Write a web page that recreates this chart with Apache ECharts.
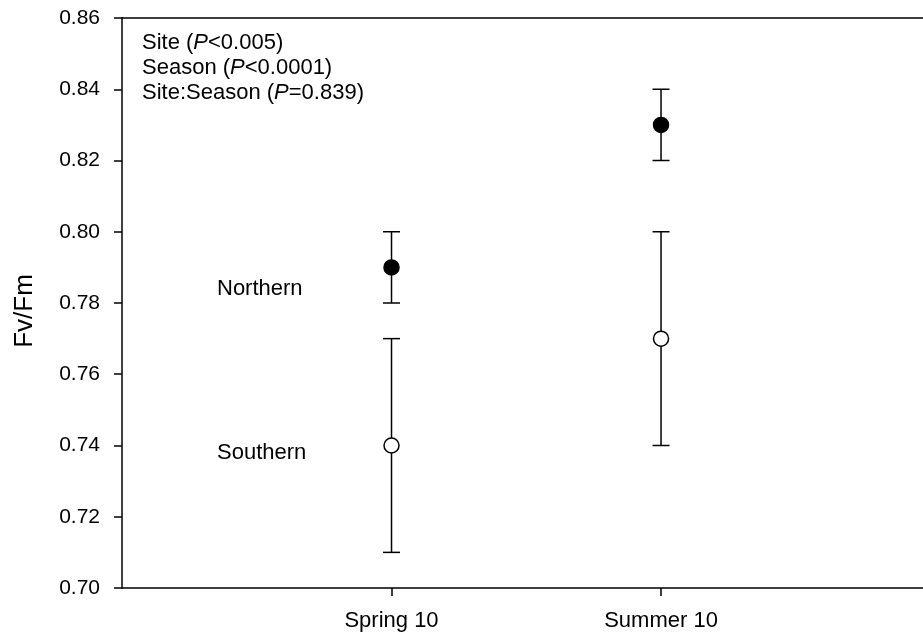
<!DOCTYPE html>
<html>
<head>
<meta charset="utf-8">
<script src="https://cdn.jsdelivr.net/npm/echarts@6/dist/echarts.min.js"></script>
<style>
  html, body { margin: 0; padding: 0; background: #fff; }
  #chart { width: 923px; height: 637px; }
</style>
</head>
<body>
<div id="chart"></div>
<script>
// Season categories, placed at x = 1 and x = 2
const categories = ['Spring 10', 'Summer 10'];
const seasonIndex = [1, 2];
const xExtent = [0, 2.972];

// Fv/Fm means and error ranges per site
const northernMean = [0.79, 0.83];
const northernLow  = [0.78, 0.82];
const northernHigh = [0.80, 0.84];

const southernMean = [0.74, 0.77];
const southernLow  = [0.71, 0.74];
const southernHigh = [0.77, 0.80];

const statLines = [
  'Site ({i|P}<0.005)',
  'Season ({i|P}<0.0001)',
  'Site:Season ({i|P}=0.839)'
];

const FONT = 'Liberation Sans, Arial, sans-serif';

const chart = echarts.init(document.getElementById('chart'));

function errorData(low, high) {
  return seasonIndex.map((x, i) => [x, low[i], high[i]]);
}
function pointData(mean) {
  return seasonIndex.map((x, i) => [x, mean[i]]);
}

function renderErrorBar(params, api) {
  const x = api.value(0);
  const lo = api.coord([x, api.value(1)]);
  const hi = api.coord([x, api.value(2)]);
  const half = 8.5;
  const style = { stroke: '#000', lineWidth: 1.5 };
  return {
    type: 'group',
    children: [
      { type: 'line', shape: { x1: lo[0], y1: lo[1], x2: hi[0], y2: hi[1] }, style },
      { type: 'line', shape: { x1: hi[0] - half, y1: hi[1], x2: hi[0] + half, y2: hi[1] }, style },
      { type: 'line', shape: { x1: lo[0] - half, y1: lo[1], x2: lo[0] + half, y2: lo[1] }, style }
    ]
  };
}

const option = {
  animation: false,
  backgroundColor: '#fff',
  grid: { left: 122, right: 0, top: 18, bottom: 49, show: false },
  xAxis: [
    {
      type: 'value',
      min: xExtent[0], max: xExtent[1],
      axisLine: { show: true, lineStyle: { color: '#000', width: 1.5 } },
      axisTick: {
        show: true, length: 8, customValues: seasonIndex,
        lineStyle: { color: '#000', width: 1.5 }
      },
      axisLabel: {
        color: '#000', fontSize: 22, fontFamily: FONT, margin: 22,
        customValues: seasonIndex,
        formatter: v => categories[seasonIndex.indexOf(v)] || ''
      },
      splitLine: { show: false }
    },
    {
      // top frame line
      type: 'value', position: 'top',
      min: xExtent[0], max: xExtent[1],
      axisLine: { show: true, lineStyle: { color: '#000', width: 1.5 } },
      axisTick: { show: false },
      axisLabel: { show: false },
      splitLine: { show: false }
    }
  ],
  yAxis: {
    type: 'value',
    min: 0.70, max: 0.86, interval: 0.02,
    name: 'Fv/Fm',
    nameLocation: 'middle',
    nameGap: 84,
    nameTextStyle: { color: '#000', fontSize: 26, fontFamily: FONT, padding: [0, 16, 0, 0] },
    axisLine: { show: true, lineStyle: { color: '#000', width: 1.5 } },
    axisTick: { show: true, length: 8, lineStyle: { color: '#000', width: 1.5 } },
    axisLabel: {
      color: '#000', fontSize: 21, fontFamily: FONT, margin: 22,
      formatter: v => v.toFixed(2)
    },
    splitLine: { show: false }
  },
  series: [
    {
      name: 'Northern error', type: 'custom',
      renderItem: renderErrorBar, data: errorData(northernLow, northernHigh), z: 2
    },
    {
      name: 'Southern error', type: 'custom',
      renderItem: renderErrorBar, data: errorData(southernLow, southernHigh), z: 2
    },
    {
      name: 'Northern', type: 'scatter', data: pointData(northernMean),
      symbol: 'circle', symbolSize: 15,
      itemStyle: { color: '#000', borderColor: '#000', borderWidth: 1.5, opacity: 1 }, z: 3
    },
    {
      name: 'Southern', type: 'scatter', data: pointData(southernMean),
      symbol: 'circle', symbolSize: 15,
      itemStyle: { color: '#fff', borderColor: '#000', borderWidth: 1.5, opacity: 1 }, z: 3
    }
  ],
  graphic: [
    ...statLines.map((t, i) => ({
      type: 'text', left: 142, top: 32 + i * 25,
      style: {
        text: t, fill: '#000', fontSize: 22, fontFamily: FONT,
        rich: { i: { fontStyle: 'italic', fontSize: 22, fontFamily: FONT, fill: '#000' } }
      }
    })),
    {
      type: 'text', left: 217, top: 278,
      style: { text: 'Northern', fill: '#000', fontSize: 22, fontFamily: FONT }
    },
    {
      type: 'text', left: 217, top: 442,
      style: { text: 'Southern', fill: '#000', fontSize: 22, fontFamily: FONT }
    }
  ]
};

chart.setOption(option);
</script>
</body>
</html>
